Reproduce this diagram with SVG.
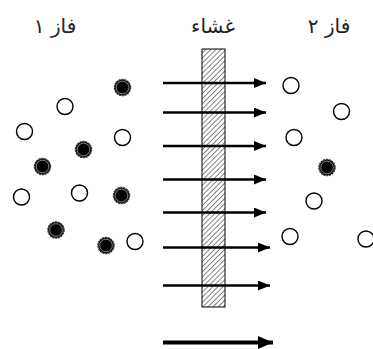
<svg xmlns="http://www.w3.org/2000/svg" width="373" height="349" viewBox="0 0 373 349">
<defs>
<pattern id="hatch" patternUnits="userSpaceOnUse" width="3.6" height="3.6" patternTransform="rotate(45)">
<rect width="3.6" height="3.6" fill="#ffffff"/>
<line x1="0" y1="0" x2="0" y2="3.6" stroke="#333" stroke-width="1.2"/>
</pattern>
<marker id="ah" viewBox="0 0 12 10" refX="12" refY="5" markerWidth="12" markerHeight="10" markerUnits="userSpaceOnUse" orient="auto">
<path d="M0,0 L12,5 L0,10 Z" fill="#000"/>
</marker>
<marker id="ahb" viewBox="0 0 15 13" refX="15" refY="6.5" markerWidth="15" markerHeight="13" markerUnits="userSpaceOnUse" orient="auto">
<path d="M0,0 L15,6.5 L0,13 Z" fill="#000"/>
</marker>
</defs>
<style>
.lbl{font-family:"DejaVu Sans",sans-serif;font-size:20px;fill:#222;text-anchor:middle}
.o{fill:#fff;stroke:#000;stroke-width:1.4}
.f{fill:#000;stroke:#333;stroke-width:1.5;stroke-dasharray:2 0.8}
.fi{fill:none;stroke:#fff;stroke-width:0.5}
.arr{stroke:#000;stroke-width:2.4;fill:none}
</style>
<g id="labels">
<text class="lbl" x="55" y="33" direction="rtl">فاز ۱</text>
<text class="lbl" x="213" y="33" direction="rtl">غشاء</text>
<text class="lbl" x="329" y="33" direction="rtl">فاز ۲</text>
</g>
<g id="membrane">
<rect x="202" y="49" width="23" height="258" fill="url(#hatch)" stroke="#000" stroke-width="1"/>
</g>
<g id="phase1">
<g class="fc"><circle class="f" cx="122.5" cy="87.5" r="8"/><circle class="fi" cx="122.5" cy="87.5" r="6.3"/></g>
<circle class="o" cx="65" cy="106.5" r="8"/>
<circle class="o" cx="24.5" cy="131.5" r="8"/>
<circle class="o" cx="122.5" cy="137.5" r="8"/>
<g class="fc"><circle class="f" cx="83.5" cy="149.5" r="8"/><circle class="fi" cx="83.5" cy="149.5" r="6.3"/></g>
<g class="fc"><circle class="f" cx="42.5" cy="166.5" r="8"/><circle class="fi" cx="42.5" cy="166.5" r="6.3"/></g>
<circle class="o" cx="21.5" cy="197" r="8"/>
<circle class="o" cx="79.5" cy="193" r="8"/>
<g class="fc"><circle class="f" cx="121.5" cy="195.5" r="8"/><circle class="fi" cx="121.5" cy="195.5" r="6.3"/></g>
<g class="fc"><circle class="f" cx="56" cy="230" r="8"/><circle class="fi" cx="56" cy="230" r="6.3"/></g>
<g class="fc"><circle class="f" cx="106" cy="245.5" r="8"/><circle class="fi" cx="106" cy="245.5" r="6.3"/></g>
<circle class="o" cx="135" cy="241.5" r="8"/>
</g>
<g id="phase2">
<circle class="o" cx="291" cy="85.5" r="8"/>
<circle class="o" cx="341.5" cy="111.5" r="8"/>
<circle class="o" cx="294" cy="137.5" r="8"/>
<g class="fc"><circle class="f" cx="327" cy="167.5" r="8"/><circle class="fi" cx="327" cy="167.5" r="6.3"/></g>
<circle class="o" cx="314" cy="201" r="8"/>
<circle class="o" cx="290" cy="236.5" r="8"/>
<circle class="o" cx="366" cy="239" r="8"/>
</g>
<g id="connectors">
<line class="arr" x1="163" y1="83" x2="266" y2="83" marker-end="url(#ah)"/>
<line class="arr" x1="163" y1="112.5" x2="266" y2="112.5" marker-end="url(#ah)"/>
<line class="arr" x1="163" y1="146" x2="266" y2="146" marker-end="url(#ah)"/>
<line class="arr" x1="163" y1="179.5" x2="266" y2="179.5" marker-end="url(#ah)"/>
<line class="arr" x1="163" y1="212.5" x2="266" y2="212.5" marker-end="url(#ah)"/>
<line class="arr" x1="163" y1="247.5" x2="270" y2="247.5" marker-end="url(#ah)"/>
<line class="arr" x1="163" y1="285.5" x2="270" y2="285.5" marker-end="url(#ah)"/>
<line x1="163" y1="342.5" x2="273" y2="342.5" stroke="#000" stroke-width="4" marker-end="url(#ahb)"/>
</g>
</svg>
